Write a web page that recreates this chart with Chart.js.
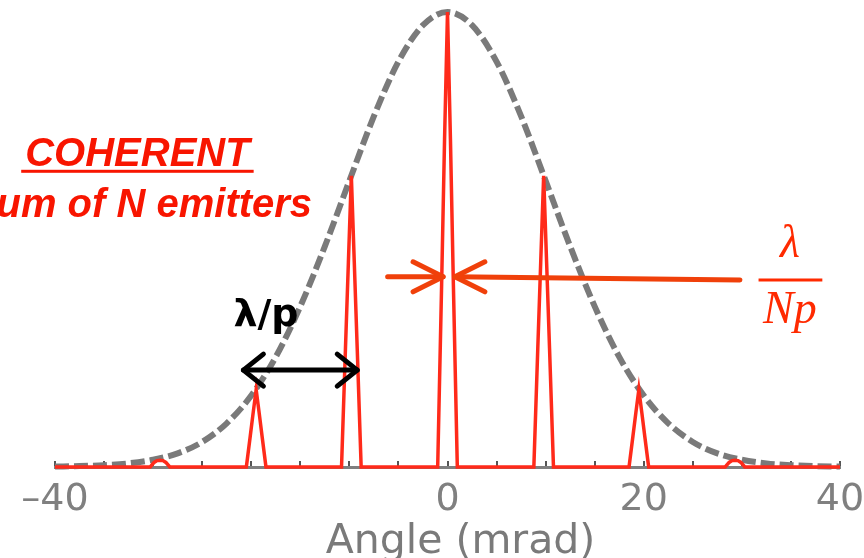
<!DOCTYPE html>
<html>
<head>
<meta charset="utf-8">
<script src="https://cdn.jsdelivr.net/npm/chart.js@4"></script>
<style>
  html, body { margin: 0; padding: 0; background: #fff; }
  #wrap { width: 864px; height: 558px; }
</style>
</head>
<body>
<div id="wrap"><canvas id="angleChart" width="864" height="558"></canvas></div>
<script>
// Gaussian envelope (dashed grey)
const envX = [-40, -37.5, -35, -32.5, -30, -27.5, -25, -22.5, -20, -17.5, -15, -12.5, -10, -7.5, -5, -2.5,
              0, 2.5, 5, 7.5, 10, 12.5, 15, 17.5, 20, 22.5, 25, 27.5, 30, 32.5, 35, 37.5, 40];
const envY = [0.001, 0.002, 0.004, 0.008, 0.016, 0.03, 0.055, 0.096, 0.157, 0.242, 0.353, 0.485, 0.629, 0.771, 0.891, 0.971,
              1.0, 0.971, 0.891, 0.771, 0.629, 0.485, 0.353, 0.242, 0.157, 0.096, 0.055, 0.03, 0.016, 0.008, 0.004, 0.002, 0.001];

// Coherent sum (red), sharp peaks every ~9.8 mrad
const redX = [-40,
  -30.3, -29.9, -29.6, -29.3, -29.0, -28.7, -28.3,
  -20.5, -20.1, -19.8, -19.5, -19.2, -18.9, -18.5,
  -10.8, -10.4, -10.1, -9.8, -9.5, -9.2, -8.8,
  -1.0, -0.6, -0.3, 0, 0.3, 0.6, 1.0,
  8.8, 9.2, 9.5, 9.8, 10.1, 10.4, 10.8,
  18.5, 18.9, 19.2, 19.5, 19.8, 20.1, 20.5,
  28.3, 28.7, 29.0, 29.3, 29.6, 29.9, 30.3,
  40];
const redY = [0,
  0, 0.010, 0.014, 0.015, 0.014, 0.010, 0,
  0, 0.068, 0.12, 0.17, 0.12, 0.068, 0,
  0, 0.26, 0.45, 0.64, 0.45, 0.26, 0,
  0, 0.40, 0.72, 1.0, 0.72, 0.40, 0,
  0, 0.26, 0.45, 0.64, 0.45, 0.26, 0,
  0, 0.068, 0.12, 0.17, 0.12, 0.068, 0,
  0, 0.010, 0.014, 0.015, 0.014, 0.010, 0,
  0];

const tickLabels = [-40, 0, 20, 40];
const axisTitle = '  Angle (mrad)';

// overlay notes, positions in data units
const notes = [
  { text: 'COHERENT', x: -31.6, y: 0.662, align: 'center', font: 'italic bold 40px "Liberation Sans"', color: '#f81500', underline: true },
  { text: 'sum of N emitters', x: -13.8, y: 0.549, align: 'right', font: 'italic bold 40px "Liberation Sans"', color: '#f81500' },
  { text: 'λ/p', x: -18.5, y: 0.31, align: 'center', font: 'bold 38px "DejaVu Sans"', color: '#000' },
  { text: 'λ', x: 34.9, y: 0.4615, align: 'center', font: 'italic 46px "Liberation Serif"', color: '#ff2a00' },
  { text: 'Np', x: 34.9, y: 0.3165, align: 'center', font: 'italic 46px "Liberation Serif"', color: '#ff2a00' }
];

const toPts = (xs, ys) => xs.map((x, i) => ({ x: x, y: ys[i] }));

function arrowHead(ctx, tx, ty, dir) {
  ctx.beginPath();
  ctx.moveTo(tx - dir * 30, ty - 15);
  ctx.lineTo(tx, ty);
  ctx.lineTo(tx - dir * 30, ty + 15);
  ctx.stroke();
}

const overlay = {
  id: 'overlay',
  afterDatasetsDraw(chart) {
    const ctx = chart.ctx;
    const xs = chart.scales.x, ys = chart.scales.y;
    const px = v => xs.getPixelForValue(v);
    const py = v => ys.getPixelForValue(v);
    ctx.save();
    ctx.lineCap = 'round';
    ctx.lineJoin = 'round';

    notes.forEach(n => {
      ctx.font = n.font;
      ctx.fillStyle = n.color;
      ctx.textAlign = n.align;
      ctx.textBaseline = 'alphabetic';
      ctx.fillText(n.text, px(n.x), py(n.y));
      if (n.underline) {
        const w = ctx.measureText(n.text).width;
        ctx.fillRect(px(n.x) - w / 2 - 4, py(n.y) + 4, w + 8, 3);
      }
    });

    // fraction bar
    ctx.fillStyle = '#ff2a00';
    ctx.fillRect(px(31.7), py(0.411) - 1.5, px(38.2) - px(31.7), 3);

    // red arrows onto the central peak
    ctx.strokeStyle = '#f0400a';
    ctx.lineWidth = 5;
    ctx.beginPath();
    ctx.moveTo(px(-6.1), py(0.418));
    ctx.lineTo(px(-0.45), py(0.418));
    ctx.stroke();
    arrowHead(ctx, px(-0.45), py(0.418), 1);
    ctx.beginPath();
    ctx.moveTo(px(29.8), py(0.411));
    ctx.lineTo(px(0.75), py(0.418));
    ctx.stroke();
    arrowHead(ctx, px(0.75), py(0.418), -1);

    // black double arrow between peaks
    ctx.strokeStyle = '#000';
    ctx.lineWidth = 5;
    const ay = py(0.213);
    ctx.beginPath();
    ctx.moveTo(px(-20.8), ay);
    ctx.lineTo(px(-9.2), ay);
    ctx.stroke();
    ctx.beginPath();
    ctx.moveTo(px(-20.8) + 20, ay - 16); ctx.lineTo(px(-20.8), ay); ctx.lineTo(px(-20.8) + 20, ay + 16);
    ctx.stroke();
    ctx.beginPath();
    ctx.moveTo(px(-9.2) - 20, ay - 16); ctx.lineTo(px(-9.2), ay); ctx.lineTo(px(-9.2) - 20, ay + 16);
    ctx.stroke();
    ctx.restore();
  }
};

const ctxAngle = document.getElementById('angleChart').getContext('2d');
const angleChart = new Chart(ctxAngle, {
  type: 'line',
  data: {
    datasets: [
      {
        label: 'Coherent sum',
        data: toPts(redX, redY),
        borderColor: '#ff2a1a',
        borderWidth: 3.5,
        pointRadius: 0,
        tension: 0,
        clip: false
      },
      {
        label: 'Envelope',
        data: toPts(envX, envY),
        borderColor: '#7a7a7a',
        borderWidth: 6,
        borderDash: [14, 5],
        pointRadius: 0,
        cubicInterpolationMode: 'monotone',
        clip: false
      }
    ]
  },
  options: {
    responsive: false,
    animation: false,
    layout: { padding: { left: 55, right: 24, top: 12, bottom: 0 } },
    plugins: {
      legend: { display: false },
      tooltip: { enabled: false }
    },
    scales: {
      x: {
        type: 'linear',
        min: -40,
        max: 40,
        afterFit: s => { s.paddingRight = 20; s.height = 91; },
        border: { display: true, color: '#7f7f7f', width: 3 },
        grid: { drawOnChartArea: false, drawTicks: true, tickLength: -6, color: '#555', lineWidth: 2 },
        ticks: {
          stepSize: 5,
          autoSkip: false,
          maxRotation: 0,
          padding: 16,
          color: '#808080',
          font: { family: '"DejaVu Sans"', size: 38 },
          callback: v => tickLabels.includes(v) ? String(v).replace('-', '\u2013') : ''
        },
        title: {
          display: true,
          text: axisTitle,
          color: '#7a7a7a',
          font: { family: '"DejaVu Sans"', size: 41 },
          padding: { top: 0, bottom: -9 }
        }
      },
      y: { display: false, min: 0, max: 1 }
    }
  },
  plugins: [overlay]
});
</script>
</body>
</html>
